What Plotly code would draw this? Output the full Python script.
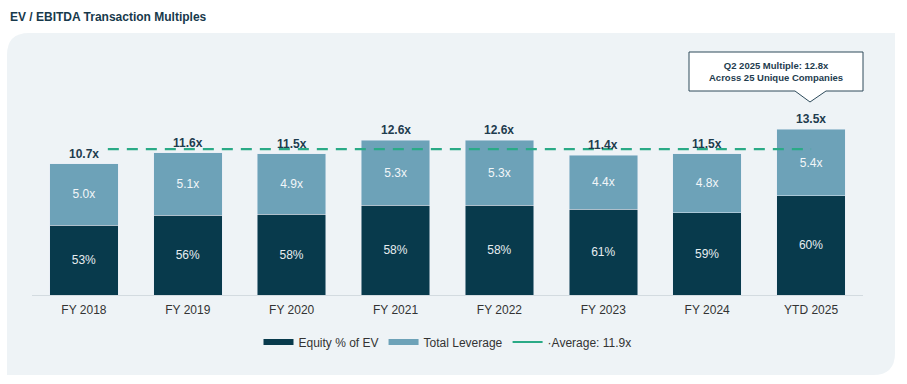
import plotly.graph_objects as go

categories = ["FY 2018", "FY 2019", "FY 2020", "FY 2021", "FY 2022", "FY 2023", "FY 2024", "YTD 2025"]
total_multiple = [10.7, 11.6, 11.5, 12.6, 12.6, 11.4, 11.5, 13.5]
total_leverage = [5.0, 5.1, 4.9, 5.3, 5.3, 4.4, 4.8, 5.4]
equity_pct = [53, 56, 58, 58, 58, 61, 59, 60]
average_multiple = 11.9
avg_x = [0.23, 7.0]
callout_lines = ["Q2 2025 Multiple: 12.8x", "Across 25 Unique Companies"]

equity_multiple = [t - l for t, l in zip(total_multiple, total_leverage)]
xs = list(range(len(categories)))

W, H = 907, 384
ML, MR, MT, MB = 32, 44, 111, 89
PW, PH = W - ML - MR, H - MT - MB

def px(x):
    return (x - ML) / PW

def py(y):
    return (H - MB - y) / PH

FONT = "Liberation Sans, Arial, sans-serif"
DARK = "#083A4C"
LIGHT = "#6DA2B8"
GREEN = "#2AAA86"
TXT = "#1E3C4E"

fig = go.Figure()
fig.add_trace(go.Bar(
    x=xs, y=equity_multiple, name="Equity % of EV", marker_color=DARK,
    text=[f"{v}%" for v in equity_pct], textposition="inside", insidetextanchor="middle",
    textfont=dict(color="#E6EDF0", size=12, family=FONT), width=0.66,
    hoverinfo="skip", showlegend=False))
fig.add_trace(go.Bar(
    x=xs, y=total_leverage, name="Total Leverage", marker_color=LIGHT,
    text=[f"{v:.1f}x" for v in total_leverage], textposition="inside", insidetextanchor="middle",
    textfont=dict(color="#F2F6F8", size=12, family=FONT), width=0.66,
    hoverinfo="skip", showlegend=False))
# legend swatches (wide rectangles like the reference)
fig.add_trace(go.Scatter(x=[None], y=[None], mode="lines", name="Equity % of EV",
                         line=dict(color=DARK, width=6)))
fig.add_trace(go.Scatter(x=[None], y=[None], mode="lines", name="Total Leverage",
                         line=dict(color=LIGHT, width=6)))
fig.add_trace(go.Scatter(
    x=avg_x, y=[average_multiple] * 2, mode="lines", name=f"·Average: {average_multiple}x",
    line=dict(color=GREEN, width=2.2, dash="11px,8px"), hoverinfo="skip", showlegend=False))
fig.add_trace(go.Scatter(x=[None], y=[None], mode="lines", name=f"·Average: {average_multiple}x",
                         line=dict(color=GREEN, width=2.2)))

# panel background with rounded top-left / bottom-right corners
x0, x1, y0, y1, r = 7, 895, 33, 375, 22
path = (f"M {px(x0)},{py(y0 + r)} Q {px(x0)},{py(y0)} {px(x0 + r)},{py(y0)} "
        f"L {px(x1)},{py(y0)} L {px(x1)},{py(y1 - r)} "
        f"Q {px(x1)},{py(y1)} {px(x1 - r)},{py(y1)} L {px(x0)},{py(y1)} Z")
shapes = [dict(type="path", xref="paper", yref="paper", path=path,
               fillcolor="#EEF3F6", line=dict(width=0), layer="below")]

# callout box
bx0, bx1, by0, by1 = 689, 863, 52, 91
tip_x, tip_y, base_l, base_r = 810, 102, 795, 826
cpath = (f"M {px(bx0)},{py(by0)} L {px(bx1)},{py(by0)} L {px(bx1)},{py(by1)} "
         f"L {px(base_r)},{py(by1)} L {px(tip_x)},{py(tip_y)} L {px(base_l)},{py(by1)} "
         f"L {px(bx0)},{py(by1)} Z")
shapes.append(dict(type="path", xref="paper", yref="paper", path=cpath,
                   fillcolor="white", line=dict(color="#2E4B5B", width=1), layer="above"))

annotations = [
    dict(xref="paper", yref="paper", x=px(8), y=py(17), xanchor="left", yanchor="middle",
         text="<b>EV / EBITDA Transaction Multiples</b>", showarrow=False,
         font=dict(family=FONT, size=12, color="#17394B")),
    dict(xref="paper", yref="paper", x=px((bx0 + bx1) / 2), y=py((by0 + by1) / 2),
         xanchor="center", yanchor="middle", showarrow=False,
         text="<b>" + "<br>".join(callout_lines) + "</b>",
         font=dict(family=FONT, size=9.5, color=TXT)),
]
# total labels above each bar
for xi, tv in zip(xs, total_multiple):
    annotations.append(dict(x=xi, y=tv, xref="x", yref="y", text=f"<b>{tv:.1f}x</b>",
                            showarrow=False, yanchor="middle", yshift=10,
                            font=dict(family=FONT, size=12, color=TXT)))

fig.update_layout(
    width=W, height=H, barmode="stack",
    margin=dict(l=ML, r=MR, t=MT, b=MB, pad=0, autoexpand=False),
    paper_bgcolor="white", plot_bgcolor="rgba(0,0,0,0)",
    font=dict(family=FONT, size=12, color="#333333"),
    shapes=shapes, annotations=annotations,
    showlegend=True,
    legend=dict(orientation="h", x=0.5, xanchor="center", y=py(342), yanchor="middle",
                font=dict(size=12, color="#333333"), bgcolor="rgba(0,0,0,0)",
                traceorder="normal"),
    xaxis=dict(range=[-0.5, 7.5], tickvals=xs, ticktext=categories, showgrid=False,
               zeroline=False, showline=True, linecolor="#D3DBE0", linewidth=1,
               ticks="", ticklabelstandoff=4, tickfont=dict(size=12, color="#333333")),
    yaxis=dict(range=[0, 15], visible=False, showgrid=False),
)

fig.write_html("out.html", config={"displayModeBar": False},
               post_script="document.body.style.margin='0';")
